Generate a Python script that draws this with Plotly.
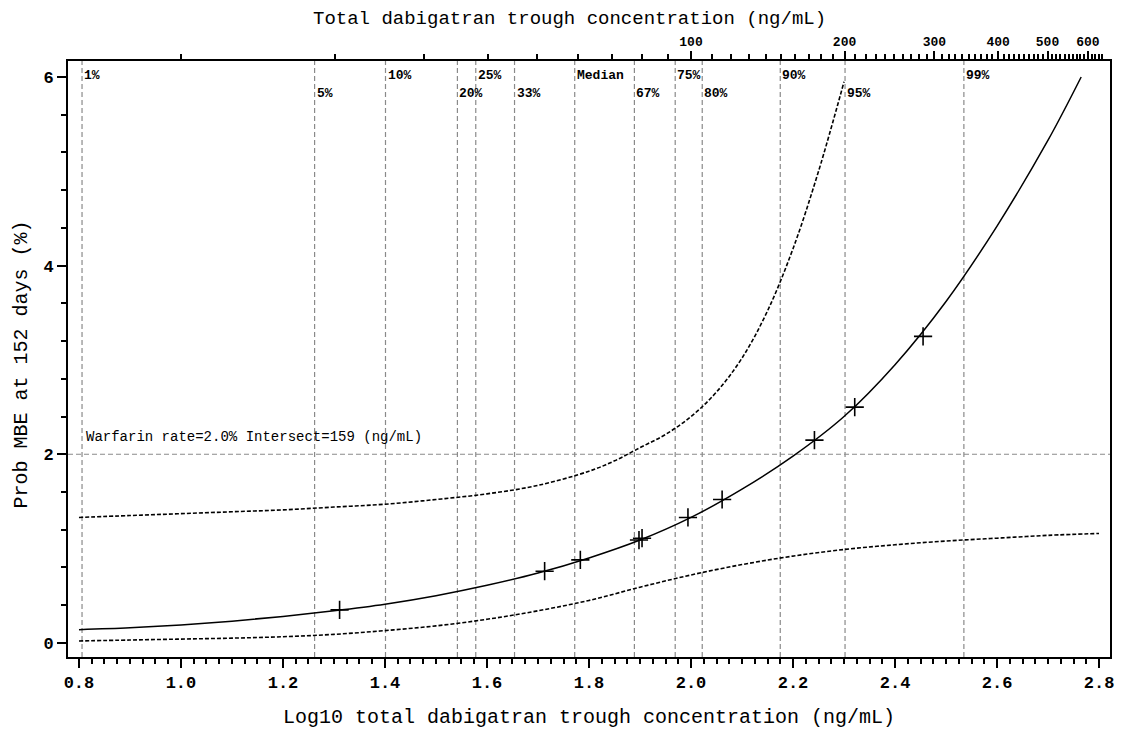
import numpy as np
import plotly.graph_objects as go

# ---- data ----
curve_x = [0.80, 0.90, 1.00, 1.10, 1.20, 1.30, 1.40, 1.50, 1.60, 1.70, 1.80, 1.90,
           2.00, 2.10, 2.20, 2.30, 2.40, 2.50, 2.60, 2.70, 2.765]
curve_mid = [0.14, 0.16, 0.19, 0.23, 0.28, 0.34, 0.41, 0.50, 0.61, 0.74, 0.90, 1.09,
             1.33, 1.63, 1.98, 2.40, 2.95, 3.62, 4.42, 5.33, 6.00]

upper_x = [0.80, 0.90, 1.00, 1.10, 1.20, 1.30, 1.40, 1.50, 1.60, 1.70, 1.80, 1.85, 1.90,
           1.95, 2.00, 2.05, 2.10, 2.15, 2.20, 2.25, 2.30]
upper_y = [1.33, 1.35, 1.37, 1.39, 1.41, 1.44, 1.47, 1.52, 1.58, 1.67, 1.82, 1.93, 2.07,
           2.21, 2.40, 2.66, 3.02, 3.52, 4.18, 5.00, 5.95]

lower_x = [0.80, 0.90, 1.00, 1.10, 1.20, 1.30, 1.40, 1.50, 1.60, 1.70, 1.80, 1.90,
           2.00, 2.10, 2.20, 2.30, 2.40, 2.50, 2.60, 2.70, 2.80]
lower_y = [0.02, 0.03, 0.04, 0.05, 0.065, 0.09, 0.13, 0.18, 0.25, 0.34, 0.45, 0.59,
           0.72, 0.83, 0.92, 0.99, 1.04, 1.08, 1.11, 1.14, 1.16]

event_x = [1.311, 1.713, 1.783, 1.898, 1.904, 1.994, 2.061, 2.242, 2.321, 2.455]
event_y = [0.35, 0.76, 0.88, 1.09, 1.11, 1.33, 1.52, 2.15, 2.50, 3.25]

pct_labels = ["1%", "5%", "10%", "20%", "25%", "33%", "Median", "67%", "75%", "80%",
              "90%", "95%", "99%"]
pct_x = [0.806, 1.262, 1.401, 1.542, 1.578, 1.654, 1.772, 1.889, 1.969, 2.022,
         2.175, 2.302, 2.535]
pct_row = [0, 1, 0, 1, 0, 1, 0, 1, 0, 1, 0, 1, 0]

warfarin_rate = 2.0
warfarin_text = "Warfarin rate=2.0% Intersect=159 (ng/mL)"

x_ticks = [0.8, 1.0, 1.2, 1.4, 1.6, 1.8, 2.0, 2.2, 2.4, 2.6, 2.8]
y_ticks = [0, 2, 4, 6]
top_major = [100, 200, 300, 400, 500, 600]
top_minor = [v for v in range(10, 650, 10) if v not in top_major]

x_title = "Log10 total dabigatran trough concentration (ng/mL)"
x2_title = "Total dabigatran trough concentration (ng/mL)"
y_title = "Prob MBE at 152 days (%)"

# ---- figure ----
FONT = "Liberation Mono"
xr = [0.7785, 2.8215]
yr = [-0.15, 6.17]
DASH = "4px,2px"
GRID = dict(color="#8a8a8a", width=1.2, dash="5px,3px")

fig = go.Figure()
fig.add_trace(go.Scatter(x=upper_x, y=upper_y, mode="lines", line=dict(color="black", width=1.6, dash=DASH),
                         line_shape="spline", showlegend=False, hoverinfo="skip"))
fig.add_trace(go.Scatter(x=lower_x, y=lower_y, mode="lines", line=dict(color="black", width=1.6, dash=DASH),
                         line_shape="spline", showlegend=False, hoverinfo="skip"))
fig.add_trace(go.Scatter(x=curve_x, y=curve_mid, mode="lines", line=dict(color="black", width=1.5),
                         line_shape="spline", showlegend=False))
fig.add_trace(go.Scatter(x=event_x, y=event_y, mode="markers",
                         marker=dict(symbol="cross-thin-open", size=13, color="black",
                                     line=dict(color="black", width=1.6)),
                         showlegend=False))
# dummy trace for top axis
fig.add_trace(go.Scatter(x=xr, y=[None, None], xaxis="x2", showlegend=False, hoverinfo="skip"))

shapes = []
for px in pct_x:
    shapes.append(dict(type="line", xref="x", yref="paper", x0=px, x1=px, y0=0, y1=1,
                       line=GRID, layer="below"))
shapes.append(dict(type="line", xref="paper", yref="y", x0=0, x1=1, y0=warfarin_rate, y1=warfarin_rate,
                   line=GRID, layer="below"))

annotations = []
for lab, px, row in zip(pct_labels, pct_x, pct_row):
    annotations.append(dict(x=px, y=0.975 if row == 0 else 0.945, xref="x", yref="paper",
                            text=lab, showarrow=False, xanchor="left", yanchor="middle",
                            font=dict(family=FONT, size=13, color="black", weight="bold")))
annotations.append(dict(x=0.81, y=2.18, xref="x", yref="y", text=warfarin_text, showarrow=False,
                        xanchor="left", yanchor="middle",
                        font=dict(family=FONT, size=14, color="black")))
# axis titles
annotations.append(dict(x=0.5, y=-0.102, xref="paper", yref="paper", text=x_title, showarrow=False,
                        xanchor="center", yanchor="middle", font=dict(family=FONT, size=20, color="black")))
annotations.append(dict(x=0.481, y=1.07, xref="paper", yref="paper", text=x2_title, showarrow=False,
                        xanchor="center", yanchor="middle", font=dict(family=FONT, size=19, color="black")))
annotations.append(dict(x=-0.0445, y=0.49, xref="paper", yref="paper", text=y_title, showarrow=False,
                        textangle=-90, xanchor="center", yanchor="middle",
                        font=dict(family=FONT, size=20, color="black")))

fig.update_layout(
    width=1121, height=731,
    margin=dict(l=68, r=11, t=61, b=74, autoexpand=False),
    paper_bgcolor="white", plot_bgcolor="white",
    font=dict(family=FONT, color="black"),
    shapes=shapes, annotations=annotations,
    xaxis=dict(range=xr, tickmode="array", tickvals=x_ticks, ticktext=[f"{v:.1f}" for v in x_ticks],
               ticks="outside", ticklen=9, tickwidth=2, tickcolor="black",
               minor=dict(dtick=0.025, tick0=0.8, ticks="outside", ticklen=5, tickwidth=1.5, tickcolor="black"),
               showline=True, linecolor="black", linewidth=2, mirror=True, showgrid=False, zeroline=False,
               automargin=False, tickfont=dict(family=FONT, size=17, weight="bold")),
    xaxis2=dict(range=xr, overlaying="x", side="top", anchor="y", tickmode="array",
                tickvals=[float(np.log10(v)) for v in top_major], ticktext=[str(v) for v in top_major],
                ticks="outside", ticklen=8, tickwidth=2, tickcolor="black",
                minor=dict(tickmode="array", tickvals=[float(np.log10(v)) for v in top_minor],
                           ticks="outside", ticklen=5, tickwidth=1.5, tickcolor="black"),
                showline=True, linecolor="black", linewidth=2, showgrid=False, zeroline=False,
                automargin=False, tickfont=dict(family=FONT, size=13, weight="bold")),
    yaxis=dict(range=yr, tickmode="array", tickvals=y_ticks, ticks="outside", ticklen=9, tickwidth=2,
               tickcolor="black",
               minor=dict(dtick=0.4, tick0=0, ticks="outside", ticklen=5, tickwidth=1.5, tickcolor="black"),
               showline=True, linecolor="black", linewidth=2, mirror=True, showgrid=False, zeroline=False,
               automargin=False, tickfont=dict(family=FONT, size=17, weight="bold")),
)

fig.write_html("out.html", config={"displayModeBar": False})

# remove the default page margin so the figure fills the window exactly
with open("out.html", "r", encoding="utf-8") as f:
    html = f.read()
html = html.replace("<head>", "<head><style>html,body{margin:0;padding:0;overflow:hidden;}</style>", 1)
with open("out.html", "w", encoding="utf-8") as f:
    f.write(html)
